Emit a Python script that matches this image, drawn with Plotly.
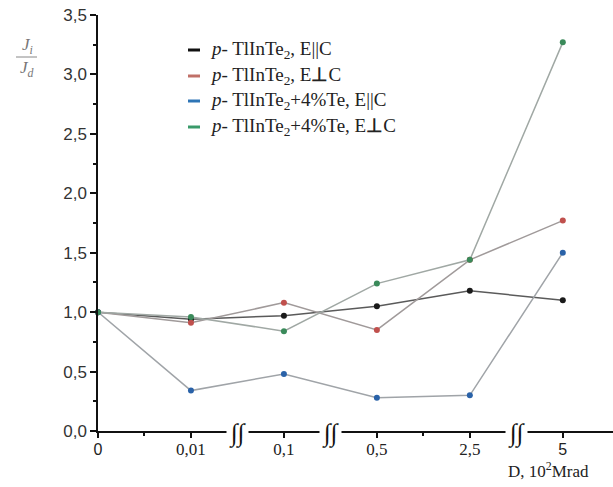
import plotly.graph_objects as go

categories = ["0", "0,01", "0,1", "0,5", "2,5", "5"]
x_pos = [0, 1, 2, 3, 4, 5]

series_names = [
    "<i>p</i>- TlInTe<sub>2</sub>, E||C",
    "<i>p</i>- TlInTe<sub>2</sub>, E<b>⊥</b>C",
    "<i>p</i>- TlInTe<sub>2</sub>+4%Te, E||C",
    "<i>p</i>- TlInTe<sub>2</sub>+4%Te, E<b>⊥</b>C",
]
black_vals = [1.00, 0.94, 0.97, 1.05, 1.18, 1.10]
red_vals = [1.00, 0.91, 1.08, 0.85, 1.44, 1.77]
blue_vals = [1.00, 0.34, 0.48, 0.28, 0.30, 1.50]
green_vals = [1.00, 0.96, 0.84, 1.24, 1.44, 3.27]

marker_colors = ["#1a1a1a", "#c0504d", "#2a62a8", "#3a8a5a"]
line_colors = ["#5a5a5a", "#a09a9a", "#a0a4a8", "#a0a8a4"]
legend_colors = ["#111111", "#c07068", "#2e75b6", "#3a9a6a"]

fig = go.Figure()
for vals, mc, lc in zip([black_vals, red_vals, blue_vals, green_vals], marker_colors, line_colors):
    fig.add_trace(go.Scatter(
        x=x_pos, y=vals, mode="lines+markers",
        line=dict(color=lc, width=1.5),
        marker=dict(color=mc, size=6),
        showlegend=False, cliponaxis=False,
    ))

tick_text = []
for c in categories:
    if c in ("0", "5"):
        tick_text.append(f'<span style="font-family:Liberation Sans;font-size:16px">{c}</span>')
    else:
        tick_text.append(c)

fig.update_xaxes(
    range=[0, 5.54], tickvals=x_pos, ticktext=tick_text,
    showline=True, linecolor="#111", linewidth=1.5,
    ticks="outside", ticklen=5, tickcolor="#111", tickwidth=1.5,
    minor=dict(tickvals=[0.5, 3.5], ticks="outside", ticklen=3, tickcolor="#111"),
    showgrid=False, zeroline=False, ticklabelstandoff=-3,
    tickfont=dict(family="Liberation Serif", size=17, color="#222"),
)
fig.update_yaxes(
    range=[0, 3.5], tickvals=[0, 0.5, 1, 1.5, 2, 2.5, 3, 3.5],
    ticktext=["0,0", "0,5", "1,0", "1,5", "2,0", "2,5", "3,0", "3,5"],
    showline=True, linecolor="#111", linewidth=1.5,
    ticks="outside", ticklen=6, tickcolor="#111", tickwidth=1.5,
    minor=dict(dtick=0.25, ticks="outside", ticklen=3, tickcolor="#111"),
    showgrid=False, zeroline=False,
    tickfont=dict(family="Liberation Sans", size=17, color="#333"),
)

# axis break symbols
for bx in [1.5, 2.5, 4.5]:
    fig.add_annotation(x=bx, y=0, xref="x", yref="y", text="∫∫", showarrow=False,
                       font=dict(family="Liberation Serif", size=25, color="#111"),
                       bgcolor="white", borderpad=2, yshift=-2)

# legend
legend_y = [50, 76, 101, 127]
for name, col, ly in zip(series_names, legend_colors, legend_y):
    yp = (431 - ly) / 416
    fig.add_shape(type="line", xref="paper", yref="paper",
                  x0=(188 - 98) / 515, x1=(200 - 98) / 515, y0=yp, y1=yp,
                  line=dict(color=col, width=3), layer="above")
    fig.add_annotation(xref="paper", yref="paper", x=(208 - 98) / 515, y=yp,
                       text=name, showarrow=False, xanchor="left", yanchor="middle",
                       font=dict(family="Liberation Serif", size=19, color="#222"))

# y label fraction
fig.add_annotation(xref="paper", yref="paper", x=(27 - 98) / 515, y=(431 - 46) / 416,
                   text="<i>J<sub>i</sub></i>", showarrow=False, xanchor="center", yanchor="middle",
                   font=dict(family="Liberation Serif", size=17, color="#777"))
fig.add_shape(type="line", xref="paper", yref="paper",
              x0=(16 - 98) / 515, x1=(37 - 98) / 515,
              y0=(431 - 57) / 416, y1=(431 - 57) / 416, line=dict(color="#888", width=1))
fig.add_annotation(xref="paper", yref="paper", x=(27 - 98) / 515, y=(431 - 69) / 416,
                   text="<i>J<sub>d</sub></i>", showarrow=False, xanchor="center", yanchor="middle",
                   font=dict(family="Liberation Serif", size=17, color="#777"))

# x title
fig.add_annotation(xref="paper", yref="paper", x=(548 - 98) / 515, y=(431 - 470) / 416,
                   text="D, 10<sup>2</sup>Mrad", showarrow=False, xanchor="center", yanchor="middle",
                   font=dict(family="Liberation Serif", size=17, color="#222"))

fig.update_layout(
    width=613, height=487,
    margin=dict(l=98, r=0, t=15, b=56),
    paper_bgcolor="white", plot_bgcolor="white",
    showlegend=False,
)
fig.write_html("out.html")
